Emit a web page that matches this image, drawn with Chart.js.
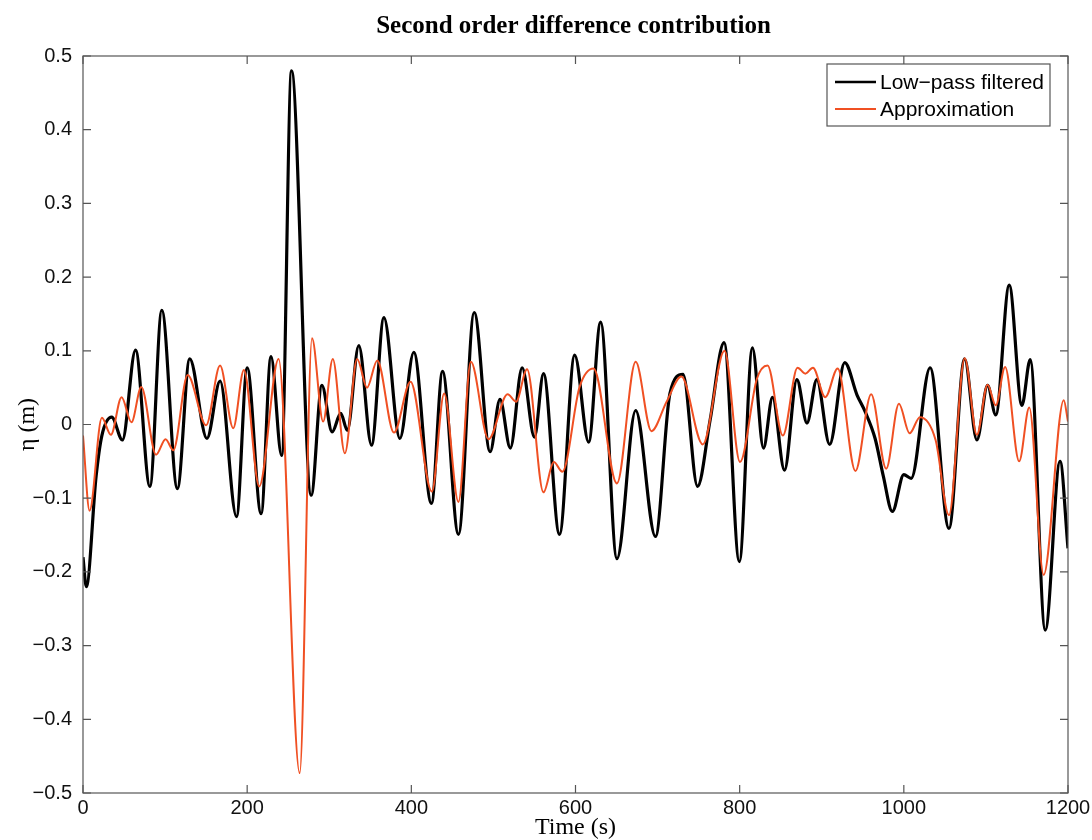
<!DOCTYPE html>
<html>
<head>
<meta charset="utf-8">
<script src="https://cdn.jsdelivr.net/npm/chart.js@4.4.1/dist/chart.umd.min.js"></script>
<style>
  body { margin: 0; background: #fff; }
  #wrap { width: 1092px; height: 840px; }
</style>
</head>
<body>
<div id="wrap"><canvas id="myChart" width="1092" height="840"></canvas></div>
<script>
// time (s) and eta (m)
const lowPassT = [0, 4, 16, 23, 35, 48, 64, 81.5, 96, 115, 130, 151, 167, 187, 200, 217, 229, 242, 254, 278,
  291, 303.5, 314, 322, 336, 351.5, 366.6, 386, 403, 424.5, 438, 457.4, 476.6, 496, 508, 520.6, 535, 550, 561, 580.5,
  599, 616, 630.6, 650.5, 673.3, 697.4, 715, 731, 748.7, 764, 781, 799.6, 815.5, 829, 840, 854.6, 869.7, 882, 894, 909.6,
  928, 943, 953, 965, 975, 986, 1000, 1009, 1032, 1055, 1074, 1089, 1102, 1112, 1128.4, 1143.8, 1154, 1172.3, 1190.3, 1200]
const lowPassEta = [-0.18, -0.22, -0.07, -0.015, 0.010, -0.021, 0.101, -0.084, 0.155, -0.087, 0.089, -0.019, 0.059, -0.125, 0.077, -0.121, 0.092, -0.042, 0.480, -0.096,
  0.053, -0.010, 0.015, -0.008, 0.107, -0.028, 0.145, -0.019, 0.098, -0.107, 0.072, -0.149, 0.152, -0.037, 0.034, -0.032, 0.077, -0.017, 0.069, -0.149,
  0.094, -0.024, 0.139, -0.182, 0.019, -0.152, 0.042, 0.068, -0.084, 0.006, 0.111, -0.186, 0.104, -0.032, 0.037, -0.062, 0.061, 0.002, 0.061, -0.027,
  0.084, 0.040, 0.017, -0.019, -0.07, -0.118, -0.068, -0.073, 0.077, -0.141, 0.089, -0.021, 0.053, 0.013, 0.189, 0.026, 0.088, -0.279, -0.050, -0.168]

const approxT = [0, 8, 23, 34, 47, 59, 71, 89, 100.6, 110, 127.5, 150, 167, 183, 196, 214.7, 238.3, 264, 279, 292.5,
  304.3, 319, 334, 346, 358.5, 378.8, 399, 425, 440, 457.4, 472.5, 494, 517.3, 527.5, 541, 561, 573.5, 584, 605, 622,
  650.5, 673.3, 692.5, 711, 729, 755, 781.5, 800.4, 821, 834, 852.6, 870.5, 880, 889.3, 904.3, 919.4, 941, 960.2, 978.5, 994,
  1007, 1019.6, 1038.7, 1055, 1074.2, 1089, 1102, 1112, 1123.4, 1140.5, 1152.8, 1170.3, 1194.8, 1200]
const approxEta = [-0.015, -0.117, 0.009, -0.014, 0.037, 0.003, 0.051, -0.041, -0.020, -0.035, 0.067, -0.001, 0.080, -0.005, 0.074, -0.084, 0.089, -0.473, 0.117, 0.004,
  0.089, -0.039, 0.089, 0.050, 0.087, -0.011, 0.058, -0.091, 0.042, -0.105, 0.085, -0.020, 0.041, 0.031, 0.075, -0.092, -0.051, -0.064, 0.051, 0.076,
  -0.080, 0.085, -0.009, 0.031, 0.065, -0.027, 0.100, -0.051, 0.062, 0.080, -0.015, 0.077, 0.069, 0.077, 0.037, 0.076, -0.063, 0.041, -0.060, 0.028,
  -0.012, 0.010, -0.021, -0.123, 0.090, -0.014, 0.054, 0.026, 0.078, -0.050, 0.023, -0.204, 0.033, 0.004]

const seriesLabels = ['Low\u2212pass filtered', 'Approximation']
const titleText = 'Second order difference contribution'
const xTitle = 'Time (s)'
const yTitle = '\u03b7 (m)'

const blackColor = '#000'
const redColor = 'rgb(240, 80, 35)'
const frameColor = '#555'

const toPoints = (ts, vs) => ts.map((t, i) => ({ x: t, y: vs[i] }))

// draws the matlab style box, inner ticks, title, axis names and legend
const matlabFrame = {
  id: 'matlabFrame',
  afterDraw: function(chart) {
    const ctx = chart.ctx
    const a = chart.chartArea
    const xs = chart.scales.x
    const ys = chart.scales.y
    const tick = 8

    ctx.save()
    ctx.strokeStyle = frameColor
    ctx.lineWidth = 1.2
    ctx.strokeRect(a.left, a.top, a.right - a.left, a.bottom - a.top)

    ctx.beginPath()
    xs.ticks.forEach(t => {
      let px = xs.getPixelForValue(t.value)
      ctx.moveTo(px, a.bottom); ctx.lineTo(px, a.bottom - tick)
      ctx.moveTo(px, a.top); ctx.lineTo(px, a.top + tick)
    })
    ys.ticks.forEach(t => {
      let py = ys.getPixelForValue(t.value)
      ctx.moveTo(a.left, py); ctx.lineTo(a.left + tick, py)
      ctx.moveTo(a.right, py); ctx.lineTo(a.right - tick, py)
    })
    ctx.stroke()

    let cx = (a.left + a.right) / 2
    ctx.fillStyle = '#000'
    ctx.textAlign = 'center'
    ctx.textBaseline = 'middle'
    ctx.font = 'bold 25px "Liberation Serif"'
    ctx.fillText(titleText, cx - 2, 27)

    ctx.font = '24px "Liberation Serif"'
    ctx.fillText(xTitle, cx, 828)

    ctx.save()
    ctx.translate(28, (a.top + a.bottom) / 2)
    ctx.rotate(-Math.PI / 2)
    ctx.fillText(yTitle, 0, 0)
    ctx.restore()

    // legend box
    let lx = 827, ly = 64, lw = 223, lh = 62
    ctx.fillStyle = '#fff'
    ctx.fillRect(lx, ly, lw, lh)
    ctx.strokeStyle = frameColor
    ctx.lineWidth = 1.2
    ctx.strokeRect(lx, ly, lw, lh)
    let colors = [blackColor, redColor]
    let widths = [2.5, 2]
    let rows = [82, 109]
    ctx.textAlign = 'left'
    ctx.font = '21px "Liberation Sans"'
    seriesLabels.forEach((lab, i) => {
      ctx.strokeStyle = colors[i]
      ctx.lineWidth = widths[i]
      ctx.beginPath()
      ctx.moveTo(835, rows[i]); ctx.lineTo(876, rows[i])
      ctx.stroke()
      ctx.fillStyle = '#000'
      ctx.fillText(lab, 880, rows[i] + 1)
    })
    ctx.restore()
  }
}

document.addEventListener('DOMContentLoaded', function() {
  Chart.defaults.font.family = '"Liberation Sans", Arial, sans-serif'
  Chart.defaults.font.size = 20
  Chart.defaults.color = '#111'

  const ctx = document.getElementById('myChart')
  new Chart(ctx, {
    type: 'line',
    data: {
      datasets: [
        {
          label: seriesLabels[0],
          data: toPoints(lowPassT, lowPassEta),
          borderColor: blackColor,
          borderWidth: 3.2,
          pointRadius: 0,
          cubicInterpolationMode: 'monotone',
          order: 2
        },
        {
          label: seriesLabels[1],
          data: toPoints(approxT, approxEta),
          borderColor: redColor,
          borderWidth: 2,
          pointRadius: 0,
          cubicInterpolationMode: 'monotone',
          order: 1
        }
      ]
    },
    options: {
      responsive: false,
      devicePixelRatio: 1,
      animation: false,
      layout: {
        padding: { left: 0, right: 24, top: 56, bottom: 0 }
      },
      plugins: {
        legend: { display: false },
        title: { display: false },
        tooltip: { enabled: false }
      },
      scales: {
        x: {
          type: 'linear',
          min: 0,
          max: 1200,
          grid: { display: false, drawTicks: false },
          border: { display: false },
          ticks: {
            stepSize: 200,
            padding: 3,
            maxRotation: 0,
            color: '#111',
            callback: function(v) {
              return String(v)
            }
          },
          afterFit: function(s) {
            s.height = 47
            s.paddingLeft = 0
            s.paddingRight = 0
          }
        },
        y: {
          min: -0.5,
          max: 0.5,
          grid: { display: false, drawTicks: false },
          border: { display: false },
          ticks: {
            stepSize: 0.1,
            padding: 11,
            color: '#111',
            callback: function(v) {
              let r = Math.round(v * 10) / 10
              return String(r).replace('-', '\u2212')
            }
          },
          afterFit: function(s) {
            s.width = 83
            s.paddingTop = 0
            s.paddingBottom = 0
          }
        }
      }
    },
    plugins: [matlabFrame]
  })
})
</script>
</body>
</html>
